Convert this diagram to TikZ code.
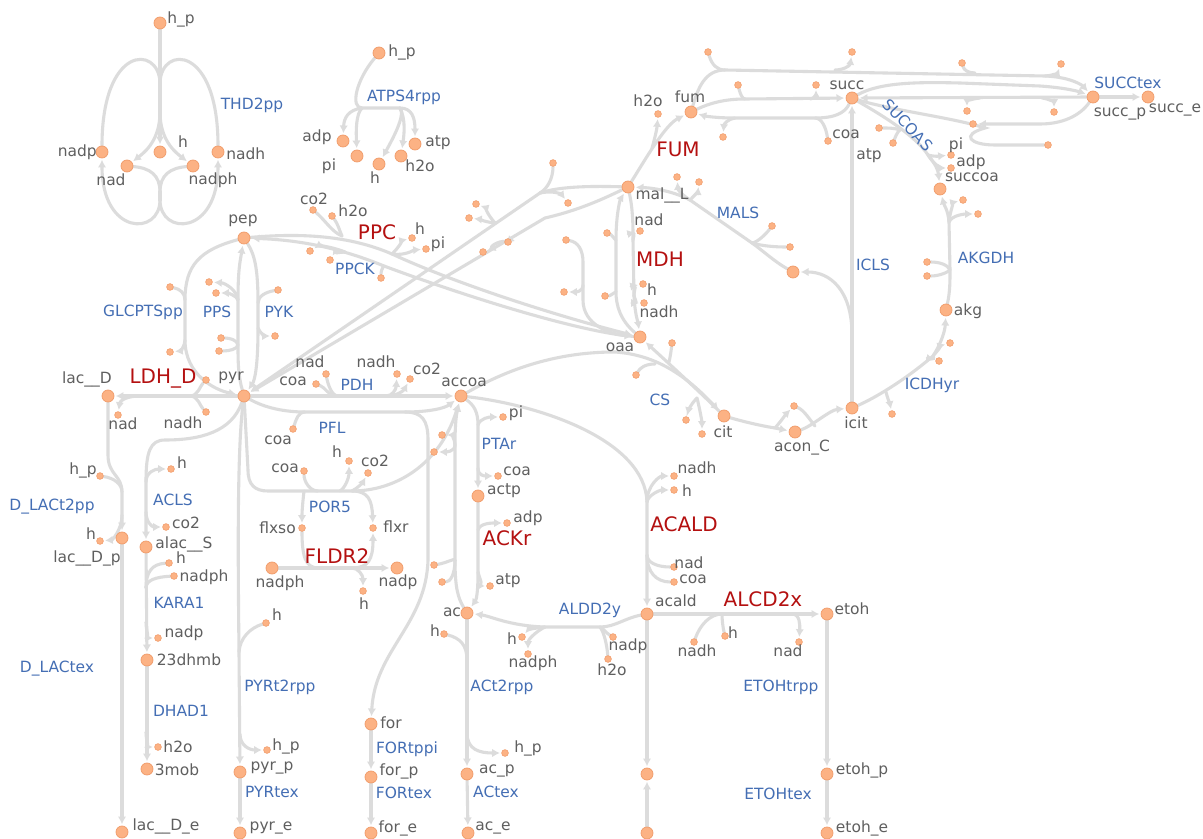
\documentclass[tikz,border=0pt]{standalone}
\usepackage{fontspec}
\setmainfont{DejaVu Sans}
\usetikzlibrary{arrows.meta}
\definecolor{lg}{RGB}{220,220,220}
\definecolor{mf}{RGB}{252,178,132}
\definecolor{ms}{RGB}{240,155,105}
\definecolor{mt}{RGB}{95,95,95}
\definecolor{rb}{RGB}{68,110,180}
\definecolor{rr}{RGB}{180,16,16}
\pgfdeclarelayer{bg}
\pgfsetlayers{bg,main}
\tikzset{
 rx/.style={draw=lg, line width=2.2pt, line cap=round},
 ar/.style={-{Latex[length=5.5pt,width=6pt]}, shorten >=1pt},
 mbig/.style={circle, fill=mf, draw=ms, line width=0.5pt, minimum size=0.3cm, inner sep=0pt},
 msml/.style={circle, fill=mf, draw=ms, line width=0.4pt, minimum size=0.17cm, inner sep=0pt},
 mlab/.style={text=mt, font=\fontsize{11}{13}\selectfont, inner sep=0pt},
 rlab/.style={text=rb, font=\fontsize{11}{13}\selectfont, inner sep=0pt},
 rred/.style={text=rr, font=\fontsize{14.2}{16}\selectfont, inner sep=0pt},
}
\newcommand\metbig[2]{\node[mbig] (#1) at (#2) {};}
\newcommand\metsml[2]{\node[msml] (#1) at (#2) {};}
\newcommand\labc[3]{\node[mlab] (#1) at (#2) {#3};}
\newcommand\labw[3]{\node[mlab,anchor=west] (#1) at (#2) {#3};}
\newcommand\labe[3]{\node[mlab,anchor=east] (#1) at (#2) {#3};}
\newcommand\rxnb[3]{\node[rlab] (#1) at (#2) {#3};}
\newcommand\rxnr[3]{\node[rred] (#1) at (#2) {#3};}
\begin{document}
\begin{tikzpicture}[x=0.025cm,y=-0.025cm]
\useasboundingbox (0,0) rectangle (1203,839);
% ================= THD2pp =================
\metbig{thdhp}{160,23}
\metbig{thdnadp}{102,152}
\metbig{thdnad}{127,166}
\metbig{thdh}{160,152}
\metbig{thdnadph}{193,166}
\metbig{thdnadh}{218,152}
\labw{l1}{167,19}{h\_p}
\labe{l2}{97,152}{nadp}
\labc{l3}{111,180}{nad}
\labc{l4}{183,142}{h}
\labc{l5}{213,180}{nadph}
\labw{l6}{226,154}{nadh}
\rxnb{r1}{252,105}{THD2pp}
\coordinate (thj1) at (160,82);
\coordinate (thj2) at (160,112);
\coordinate (thj3) at (160,192);
\coordinate (thj4) at (160,200);
% ================= ATPS4rpp =================
\metbig{athp}{379,53}
\metbig{aadp}{343,141}
\metbig{api}{357,156}
\metbig{ah}{379,164}
\metbig{ah2o}{401,156}
\metbig{aatp}{415,144}
\labw{l7}{388,52}{h\_p}
\labc{l8}{317,137}{adp}
\labc{l9}{329,166}{pi}
\labc{l10}{375,178}{h}
\labc{l11}{420,166}{h2o}
\labc{l12}{438,143}{atp}
\rxnb{r2}{404,97}{ATPS4rpp}
\coordinate (aj1) at (362,108);
\coordinate (aj2) at (400,108);
% ================= central metabolites =================
\metbig{pep}{244,238}
\metbig{pyr}{244,396}
\metbig{lacD}{108,396}
\metbig{accoa}{461,396}
\metbig{malL}{628,187}
\metbig{fum}{691,112}
\metbig{succ}{852,98}
\metbig{succp}{1093,97}
\metbig{succe}{1148,97}
\metbig{succoa}{940,189}
\metbig{akg}{946,310}
\metbig{icit}{852,408}
\metbig{aconC}{795,432}
\metbig{cit}{724,416}
\metbig{oaa}{640,337}
\metbig{glx}{793,272}
\metbig{actp}{478,496}
\metbig{ac}{467,613}
\metbig{acald}{647,614}
\metbig{etoh}{827,614}
\metbig{etohp}{827,774}
\metbig{etohe}{827,833}
\metbig{acp}{467,774}
\metbig{ace}{468,833}
\metbig{fr}{371,724}
\metbig{forp}{371,777}
\metbig{fore}{371,833}
\metbig{pyrp}{240,772}
\metbig{pyre}{240,833}
\metbig{lacDp}{122,538}
\metbig{lacDe}{122,832}
\metbig{alacS}{146,547}
\metbig{dhmb}{147,660}
\metbig{mob}{147,769}
\metbig{fnadph}{272,568}
\metbig{fnadp}{397,568}
\metbig{acaldp}{647,774}
\metbig{acalde}{647,833}
\labc{l13}{243,221}{pep}
\labc{l14}{231,378}{pyr}
\labc{l15}{87,379}{lac\_\_D}
\labc{l16}{464,382}{accoa}
\labc{l17}{662,195}{mal\_\_L}
\labc{l18}{690,97}{fum}
\labc{l19}{847,85}{succ}
\labc{l20}{1120,114}{succ\_p}
\labc{l21}{1175,110}{succ\_e}
\labc{l22}{972,177}{succoa}
\labc{l23}{968,311}{akg}
\labc{l24}{856,423}{icit}
\labc{l25}{802,448}{acon\_C}
\labc{l26}{723,432}{cit}
\labc{l27}{620,347}{oaa}
\labc{l28}{504,491}{actp}
\labc{l29}{452,612}{ac}
\labc{l30}{676,601}{acald}
\labc{l31}{852,609}{etoh}
\labc{l32}{862,770}{etoh\_p}
\labc{l33}{862,828}{etoh\_e}
\labc{l34}{497,771}{ac\_p}
\labc{l35}{493,828}{ac\_e}
\labc{l36}{391,723}{for}
\labc{l37}{399,771}{for\_p}
\labc{l38}{398,828}{for\_e}
\labc{l39}{272,768}{pyr\_p}
\labc{l40}{271,828}{pyr\_e}
\labc{l41}{87,558}{lac\_\_D\_p}
\labc{l42}{166,826}{lac\_\_D\_e}
\labc{l43}{184,544}{alac\_\_S}
\labc{l44}{189,660}{23dhmb}
\labc{l45}{177,770}{3mob}
\labc{l46}{280,583}{nadph}
\labc{l47}{398,582}{nadp}
% ================= small metabolites =================
\metsml{glc1}{170,287}
\metsml{glc2}{170,352}
\metsml{pps1}{209,282}
\metsml{pps2}{216,293}
\metsml{pps3}{221,338}
\metsml{pps4}{219,351}
\metsml{pyk1}{278,290}
\metsml{pyk2}{275,336}
\metsml{ldh1}{206,380}
\metsml{ldhnadh}{206,412}
\metsml{ldhnad}{118,415}
\labc{l48}{183,423}{nadh}
\labc{l49}{123,424}{nad}
\metsml{dlhp}{100,476}
\metsml{dlh}{100,541}
\labc{l50}{83,470}{h\_p}
\labc{l51}{91,534}{h}
\metsml{aclsh}{171,469}
\metsml{aclsco2}{166,527}
\labc{l52}{182,463}{h}
\labc{l53}{186,523}{co2}
\metsml{karh}{169,563}
\metsml{karnadph}{174,576}
\metsml{karnadp}{158,638}
\metsml{dhh2o}{158,747}
\labc{l54}{181,558}{h}
\labc{l55}{204,577}{nadph}
\labc{l56}{184,633}{nadp}
\labc{l57}{178,747}{h2o}
\metsml{pth}{266,623}
\metsml{pthp}{267,750}
\labc{l58}{277,615}{h}
\labc{l59}{286,746}{h\_p}
\metsml{pdhcoa}{316,384}
\metsml{pdhnad}{326,374}
\metsml{pdhnadh}{397,374}
\metsml{pdhco2}{410,379}
\labc{l60}{293,381}{coa}
\labc{l61}{310,362}{nad}
\labc{l62}{376,362}{nadh}
\labc{l63}{427,369}{co2}
\metsml{pflcoa}{293,429}
\labc{l64}{278,440}{coa}
\metsml{porcoa}{304,471}
\metsml{porh}{349,461}
\metsml{porco2}{368,473}
\metsml{flxso}{302,528}
\metsml{flxr}{373,528}
\metsml{fh}{363,591}
\labc{l65}{285,468}{coa}
\labc{l66}{337,452}{h}
\labc{l67}{375,461}{co2}
\labe{l68}{296,528}{flxso}
\labw{l69}{383,527}{flxr}
\labc{l70}{364,604}{h}
\metsml{ppcco2}{313,210}
\metsml{ppch2o}{332,216}
\metsml{ppch}{412,238}
\metsml{ppcpi}{426,249}
\metsml{ppk1}{310,251}
\metsml{ppk2}{330,260}
\metsml{ppk3}{381,278}
\labc{l71}{314,199}{co2}
\labc{l72}{353,211}{h2o}
\labc{l73}{420,229}{h}
\labc{l74}{438,244}{pi}
\metsml{me1}{476,204}
\metsml{me2}{469,218}
\metsml{me3}{553,163}
\metsml{me4}{568,203}
\metsml{me5}{508,242}
\metsml{me6}{483,252}
\metsml{mdnad}{640,231}
\metsml{mdh}{643,284}
\metsml{mdnadh}{644,303}
\metsml{md1}{607,233}
\metsml{md2}{605,296}
\metsml{mc1}{566,240}
\metsml{mc2}{564,292}
\labc{l75}{649,220}{nad}
\labc{l76}{652,290}{h}
\labc{l77}{659,312}{nadh}
\metsml{fumh2o}{658,114}
\labc{l78}{648,101}{h2o}
\metsml{sd1}{708,52}
\metsml{sd2}{852,52}
\metsml{sd3}{962,63}
\metsml{sd4}{1061,64}
\metsml{sd5}{738,85}
\metsml{sd6}{816,85}
\metsml{sd7}{723,137}
\metsml{sd8}{828,141}
\metsml{sd9}{879,128}
\metsml{sd10}{893,143}
\metsml{sd11}{967,111}
\metsml{sd12}{1054,112}
\metsml{sd13}{973,124}
\metsml{sd14}{1048,145}
\labc{l79}{846,134}{coa}
\labc{l80}{869,156}{atp}
\metsml{supi}{951,155}
\metsml{suadp}{951,168}
\labc{l81}{956,145}{pi}
\labc{l82}{971,162}{adp}
\metsml{ak1}{963,200}
\metsml{ak2}{978,214}
\metsml{ak3}{927,262}
\metsml{ak4}{927,276}
\metsml{ic1}{950,343}
\metsml{ic2}{939,361}
\metsml{ic3}{892,414}
\metsml{ma1}{677,177}
\metsml{ma2}{699,182}
\metsml{ma3}{772,226}
\metsml{ma4}{790,247}
\metsml{cs1}{636,375}
\metsml{cs2}{672,343}
\metsml{cs3}{686,420}
\metsml{cs4}{702,434}
\metsml{acoh2o}{794,406}
\metsml{ptapi}{503,417}
\metsml{ptacoa}{498,476}
\labc{l83}{516,413}{pi}
\labc{l84}{517,471}{coa}
\metsml{ackadp}{507,523}
\metsml{ackatp}{490,586}
\labc{l85}{528,518}{adp}
\labc{l86}{508,581}{atp}
\metsml{acs1}{442,435}
\metsml{acs2}{434,452}
\metsml{acs3}{434,565}
\metsml{acs4}{442,582}
\metsml{acth}{444,634}
\metsml{acthp}{505,753}
\labc{l87}{435,631}{h}
\labc{l88}{528,748}{h\_p}
\metsml{alh}{522,637}
\metsml{alnadph}{528,654}
\metsml{alnadp}{613,637}
\metsml{alh2o}{608,659}
\labc{l89}{512,639}{h}
\labc{l90}{533,663}{nadph}
\labc{l91}{628,646}{nadp}
\labc{l92}{612,670}{h2o}
\metsml{acanadh}{674,476}
\metsml{acah}{674,490}
\metsml{acanad}{674,567}
\metsml{acacoa}{674,582}
\labc{l93}{697,468}{nadh}
\labc{l94}{687,491}{h}
\labc{l95}{689,563}{nad}
\labc{l96}{693,579}{coa}
\metsml{alcnadh}{694,642}
\metsml{alch}{725,636}
\metsml{alcnad}{799,642}
\labc{l97}{697,651}{nadh}
\labc{l98}{733,633}{h}
\labc{l99}{788,651}{nad}
% ================= reaction labels =================
\rxnb{r3}{143,312}{GLCPTSpp}
\rxnb{r4}{217,312}{PPS}
\rxnb{r5}{279,312}{PYK}
\rxnr{r6}{163,379}{LDH\_D}
\rxnr{r7}{377,232}{PPC}
\rxnb{r8}{355,269}{PPCK}
\rxnb{r9}{357,385}{PDH}
\rxnb{r10}{332,428}{PFL}
\rxnb{r11}{330,507}{POR5}
\rxnr{r12}{337,556}{FLDR2}
\rxnb{r13}{173,500}{ACLS}
\rxnb{r14}{52,507}{D\_LACt2pp}
\rxnb{r15}{179,603}{KARA1}
\rxnb{r16}{181,711}{DHAD1}
\rxnb{r17}{57,669}{D\_LACtex}
\rxnb{r18}{280,687}{PYRt2rpp}
\rxnb{r19}{272,792}{PYRtex}
\rxnb{r20}{407,749}{FORtppi}
\rxnb{r21}{404,793}{FORtex}
\rxnb{r22}{499,444}{PTAr}
\rxnr{r23}{507,538}{ACKr}
\rxnb{r24}{502,687}{ACt2rpp}
\rxnb{r25}{496,792}{ACtex}
\rxnb{r26}{590,610}{ALDD2y}
\rxnr{r27}{684,524}{ACALD}
\rxnr{r28}{763,599}{ALCD2x}
\rxnb{r29}{781,687}{ETOHtrpp}
\rxnb{r30}{778,794}{ETOHtex}
\rxnb{r31}{660,400}{CS}
\rxnb{r32}{932,385}{ICDHyr}
\rxnb{r33}{986,258}{AKGDH}
\rxnb{r34}{873,265}{ICLS}
\rxnb{r35}{738,213}{MALS}
\rxnr{r36}{660,259}{MDH}
\rxnr{r37}{678,149}{FUM}
\node[rlab,rotate=-47] (r38) at (908,125) {SUCOAS};
\rxnb{r39}{1128,83}{SUCCtex}
% ================= joint coordinates =================
\coordinate (glcA) at (185,300);
\coordinate (glcB) at (185,340);
\coordinate (ppsA) at (238,300);
\coordinate (ppsB) at (238,345);
\coordinate (pykA) at (258,303);
\coordinate (pykB) at (258,328);
\coordinate (ldhA) at (190,396);
\coordinate (ldhB) at (140,396);
\coordinate (dl0) at (108,455);
\coordinate (dlA) at (122,492);
\coordinate (dlB) at (122,515);
\coordinate (acA) at (165,440);
\coordinate (acB) at (146,482);
\coordinate (acC) at (146,512);
\coordinate (kA) at (146,588);
\coordinate (kB) at (146,622);
\coordinate (dA) at (146,732);
\coordinate (ptA) at (239,652);
\coordinate (ptB) at (240,734);
\coordinate (pdA) at (338,396);
\coordinate (pdB) at (386,396);
\coordinate (pfA) at (305,412);
\coordinate (pfB) at (405,412);
\coordinate (pfC) at (428,440);
\coordinate (pfD) at (428,560);
\coordinate (poA) at (248,470);
\coordinate (poB) at (268,491);
\coordinate (poC) at (352,491);
\coordinate (poD) at (304,491);
\coordinate (poE) at (318,491);
\coordinate (poF) at (340,491);
\coordinate (flA) at (318,568);
\coordinate (flB) at (352,568);
\coordinate (ppcA) at (392,254);
\coordinate (ppcB) at (342,236);
\coordinate (ppkA) at (384,266);
\coordinate (ppkB) at (345,252);
\coordinate (meA) at (540,193);
\coordinate (meB) at (495,223);
\coordinate (meC) at (545,218);
\coordinate (meD) at (500,242);
\coordinate (mdA) at (633,240);
\coordinate (mdB) at (634,296);
\coordinate (mdC) at (616,240);
\coordinate (mdD) at (616,292);
\coordinate (mcA) at (583,262);
\coordinate (mcB) at (583,300);
\coordinate (mcC) at (583,285);
\coordinate (fuA) at (652,148);
\coordinate (tA) at (725,70);
\coordinate (tB) at (835,70);
\coordinate (tC) at (975,73);
\coordinate (tD) at (1045,76);
\coordinate (mA) at (745,99);
\coordinate (mB) at (810,99);
\coordinate (bA) at (815,118);
\coordinate (bB) at (735,118);
\coordinate (sA) at (980,98);
\coordinate (sB) at (1042,98);
\coordinate (s2A) at (960,83);
\coordinate (s2B) at (1040,86);
\coordinate (s3A) at (1040,124);
\coordinate (s4A) at (985,128);
\coordinate (s4B) at (995,145);
\coordinate (suA) at (928,155);
\coordinate (suB) at (900,130);
\coordinate (agA) at (949,222);
\coordinate (agB) at (950,270);
\coordinate (idA) at (933,356);
\coordinate (idB) at (886,392);
\coordinate (icA) at (852,335);
\coordinate (maA) at (690,200);
\coordinate (maB) at (752,243);
\coordinate (csA) at (615,352);
\coordinate (csB) at (655,364);
\coordinate (csC) at (697,398);
\coordinate (csD) at (669,362);
\coordinate (aoA) at (775,428);
\coordinate (aoB) at (815,426);
\coordinate (ptaA) at (478,425);
\coordinate (ptaB) at (478,468);
\coordinate (akA) at (478,530);
\coordinate (akB) at (478,572);
\coordinate (csxA) at (455,445);
\coordinate (csxB) at (455,560);
\coordinate (atA) at (467,660);
\coordinate (atB) at (467,733);
\coordinate (adA) at (600,627);
\coordinate (adB) at (545,627);
\coordinate (caA) at (647,502);
\coordinate (caB) at (647,555);
\coordinate (lcA) at (722,614);
\coordinate (lcB) at (792,614);
% ================= connectors =================
\begin{pgfonlayer}{bg}
\fill[white] (0,0) rectangle (1203,839);
% THD2pp
\draw[rx,ar] (thdhp) -- (thdh);
\draw[rx] (thj1) .. controls (158,45) and (102,45) .. (thdnadp);
\draw[rx] (thj1) .. controls (162,45) and (218,45) .. (thdnadh);
\draw[rx,ar] (thj2) .. controls (160,140) and (145,152) .. (thdnad);
\draw[rx,ar] (thj2) .. controls (160,140) and (175,152) .. (thdnadph);
\draw[rx] (thdnad) .. controls (150,168) and (160,175) .. (thj3);
\draw[rx] (thdnadph) .. controls (170,168) and (160,175) .. (thj3);
\draw[rx] (thj3) -- (thj4);
\draw[rx,ar] (thj4) .. controls (160,236) and (102,236) .. (thdnadp);
\draw[rx,ar] (thj4) .. controls (160,236) and (218,236) .. (thdnadh);
% ATPS4rpp
\draw[rx] (athp) .. controls (356,80) and (350,108) .. (aj1) -- (aj2);
\draw[rx,ar] (aj1) .. controls (348,110) and (344,118) .. (aadp);
\draw[rx,ar] (aj1) .. controls (356,114) and (356,130) .. (api);
\draw[rx,ar] (aj2) .. controls (406,115) and (392,140) .. (ah);
\draw[rx,ar] (aj2) .. controls (406,120) and (404,135) .. (ah2o);
\draw[rx,ar] (aj2) .. controls (412,108) and (415,118) .. (aatp);
% GLCPTSpp
\draw[rx,ar] (pep) .. controls (200,250) and (185,265) .. (glcA) -- (glcB) .. controls (185,375) and (215,390) .. (pyr);
\draw[rx] (glc1) .. controls (180,289) and (185,293) .. (glcA);
\draw[rx,ar] (glcB) .. controls (185,346) and (180,351) .. (glc2);
% PPS
\draw[rx,ar] (pyr) .. controls (238,375) and (238,360) .. (ppsB) -- (ppsA) .. controls (238,270) and (240,262) .. (pep);
\draw[rx,ar] (ppsA) .. controls (237,290) and (225,283) .. (pps1);
\draw[rx,ar] (ppsA) .. controls (237,296) and (228,293) .. (pps2);
\draw[rx] (pps3) .. controls (230,338) and (237,340) .. (ppsB);
\draw[rx] (pps4) .. controls (230,351) and (237,349) .. (ppsB);
% PYK
\draw[rx,ar] (pep) .. controls (255,255) and (258,270) .. (pykA) -- (pykB) .. controls (258,365) and (255,380) .. (pyr);
\draw[rx] (pyk1) .. controls (266,292) and (258,296) .. (pykA);
\draw[rx,ar] (pykB) .. controls (260,333) and (265,336) .. (pyk2);
% LDH_D
\draw[rx,ar] (pyr) -- (lacD);
\draw[rx] (ldh1) .. controls (200,386) and (198,396) .. (ldhA);
\draw[rx] (ldhnadh) .. controls (200,406) and (198,396) .. (ldhA);
\draw[rx,ar] (ldhB) .. controls (126,396) and (120,401) .. (ldhnad);
% D_LACt2pp, D_LACtex
\draw[rx,ar] (lacD) -- (dl0) .. controls (108,475) and (122,475) .. (dlA) -- (lacDp);
\draw[rx] (dlhp) .. controls (114,478) and (122,484) .. (dlA);
\draw[rx,ar] (dlB) .. controls (122,530) and (112,540) .. (dlh);
\draw[rx,ar] (lacDp) -- (lacDe);
% ACLS
\draw[rx,ar] (pyr) .. controls (232,432) and (200,440) .. (acA) .. controls (150,440) and (146,452) .. (acB) -- (alacS);
\draw[rx,ar] (acB) .. controls (146,472) and (155,469) .. (aclsh);
\draw[rx,ar] (acC) .. controls (146,522) and (152,527) .. (aclsco2);
% KARA1, DHAD1
\draw[rx,ar] (alacS) -- (dhmb);
\draw[rx] (karh) .. controls (152,564) and (146,572) .. (kA);
\draw[rx] (karnadph) .. controls (156,577) and (146,580) .. (kA);
\draw[rx,ar] (kB) .. controls (146,632) and (150,638) .. (karnadp);
\draw[rx,ar] (dhmb) -- (mob);
\draw[rx,ar] (dA) .. controls (146,742) and (150,747) .. (dhh2o);
% PYRt2rpp, PYRtex
\draw[rx,ar] (pyr) .. controls (237,450) and (238,560) .. (ptA) -- (pyrp);
\draw[rx] (pth) .. controls (250,628) and (240,638) .. (ptA);
\draw[rx,ar] (ptB) .. controls (240,746) and (250,750) .. (pthp);
\draw[rx,ar] (pyrp) -- (pyre);
% FORtppi, FORtex
\draw[rx,ar] (fr) -- (forp);
\draw[rx,ar] (forp) -- (fore);
% PDH
\draw[rx,ar] (pyr) -- (accoa);
\draw[rx] (pdhcoa) .. controls (325,387) and (328,396) .. (pdA);
\draw[rx] (pdhnad) .. controls (328,385) and (332,396) .. (pdA);
\draw[rx,ar] (pdB) .. controls (392,396) and (396,390) .. (pdhnadh);
\draw[rx,ar] (pdB) .. controls (398,396) and (404,390) .. (pdhco2);
% PFL
\draw[rx,ar] (pyr) .. controls (265,408) and (285,412) .. (pfA) -- (pfB) .. controls (430,412) and (445,408) .. (accoa);
\draw[rx,ar] (pfB) .. controls (422,412) and (428,420) .. (pfC) -- (pfD) .. controls (426,625) and (375,650) .. (fr);
\draw[rx] (pflcoa) .. controls (296,420) and (298,412) .. (pfA);
% POR5
\draw[rx,ar] (pyr) -- (poA) .. controls (248,485) and (255,491) .. (poB) -- (poC) .. controls (395,491) and (440,465) .. (accoa);
\draw[rx,ar] (poC) .. controls (368,491) and (372,500) .. (flxr);
\draw[rx,ar] (poD) .. controls (303,500) and (302,510) .. (flxso);
\draw[rx] (porcoa) .. controls (304,482) and (310,491) .. (poE);
\draw[rx,ar] (poF) .. controls (345,488) and (349,478) .. (porh);
\draw[rx,ar] (poC) .. controls (358,488) and (363,482) .. (porco2);
% FLDR2
\draw[rx,ar] (fnadph) -- (fnadp);
\draw[rx] (flxso) .. controls (302,555) and (305,568) .. (flA);
\draw[rx,ar] (flB) .. controls (368,568) and (373,560) .. (flxr);
\draw[rx,ar] (flB) .. controls (358,568) and (363,575) .. (fh);
% PPC, PPCK
\draw[rx,ar] (pep) .. controls (310,232) and (355,238) .. (ppcA) .. controls (470,290) and (580,322) .. (oaa);
\draw[rx] (ppcco2) .. controls (325,220) and (332,232) .. (ppcB);
\draw[rx] (ppch2o) .. controls (338,224) and (340,232) .. (ppcB);
\draw[rx,ar] (ppcA) .. controls (398,248) and (404,240) .. (ppch);
\draw[rx,ar] (ppcA) .. controls (405,256) and (414,250) .. (ppcpi);
\draw[rx,ar] (oaa) .. controls (580,332) and (470,298) .. (ppkA) .. controls (340,248) and (300,240) .. (pep);
\draw[rx,ar] (ppkB) .. controls (330,246) and (318,246) .. (ppk1);
\draw[rx,ar] (ppkB) .. controls (338,252) and (333,255) .. (ppk2);
\draw[rx] (ppk3) .. controls (381,272) and (382,268) .. (ppkA);
% ME
\draw[rx,ar] (malL) .. controls (595,186) and (560,186) .. (meA) -- (pyr);
\draw[rx] (me3) .. controls (553,178) and (548,188) .. (meA);
\draw[rx,ar] (meA) .. controls (555,190) and (562,195) .. (me4);
\draw[rx,ar] (meB) .. controls (488,215) and (484,207) .. (me1);
\draw[rx,ar] (meB) .. controls (485,222) and (478,219) .. (me2);
\draw[rx,ar] (malL) .. controls (605,198) and (580,210) .. (meC) -- (pyr);
\draw[rx,ar] (meD) .. controls (505,240) and (506,244) .. (me5);
\draw[rx,ar] (meD) .. controls (492,244) and (488,250) .. (me6);
% MDH
\draw[rx,ar] (malL) .. controls (633,210) and (633,225) .. (mdA) -- (mdB) .. controls (635,315) and (638,322) .. (oaa);
\draw[rx,ar] (mdA) .. controls (634,234) and (636,232) .. (mdnad);
\draw[rx,ar] (mdB) .. controls (634,288) and (638,285) .. (mdh);
\draw[rx,ar] (mdB) .. controls (636,302) and (638,303) .. (mdnadh);
\draw[rx,ar] (oaa) .. controls (620,320) and (616,305) .. (mdD) -- (mdC) .. controls (616,215) and (620,200) .. (malL);
\draw[rx] (md1) .. controls (612,235) and (615,240) .. (mdC);
\draw[rx] (md2) .. controls (610,296) and (615,292) .. (mdD);
\draw[rx,ar] (mc1) .. controls (578,242) and (583,250) .. (mcA) -- (mcB) .. controls (583,325) and (610,334) .. (oaa);
\draw[rx,ar] (mcC) .. controls (583,292) and (575,292) .. (mc2);
% FUM
\draw[rx,ar] (malL) .. controls (645,160) and (665,125) .. (fum);
\draw[rx,ar] (fuA) .. controls (655,138) and (657,128) .. (fumh2o);
% fum / succ
\draw[rx,ar] (fum) .. controls (698,88) and (705,70) .. (tA) -- (tD) .. controls (1070,77) and (1082,85) .. (succp);
\draw[rx] (sd1) .. controls (712,65) and (717,70) .. (tA);
\draw[rx,ar] (tB) .. controls (843,70) and (850,66) .. (sd2);
\draw[rx] (sd3) .. controls (964,70) and (968,73) .. (tC);
\draw[rx,ar] (tD) .. controls (1052,76) and (1058,72) .. (sd4);
\draw[rx,ar] (fum) .. controls (710,103) and (725,99) .. (mA) -- (succ);
\draw[rx] (sd5) .. controls (740,93) and (742,99) .. (mA);
\draw[rx,ar] (mB) .. controls (814,99) and (816,94) .. (sd6);
\draw[rx,ar] (succ) .. controls (845,113) and (835,118) .. (bA) -- (bB) .. controls (715,118) and (705,116) .. (fum);
\draw[rx,ar] (bB) .. controls (728,119) and (724,124) .. (sd7);
\draw[rx] (sd8) .. controls (826,128) and (822,118) .. (bA);
\draw[rx,ar] (succp) -- (succ);
\draw[rx,ar] (sA) .. controls (970,99) and (967,102) .. (sd11);
\draw[rx,ar] (sB) .. controls (1050,99) and (1054,103) .. (sd12);
\draw[rx,ar] (succ) .. controls (880,82) and (920,82) .. (s2A) -- (s2B) .. controls (1068,88) and (1080,92) .. (succp);
\draw[rx,ar] (succp) .. controls (1080,116) and (1062,124) .. (s3A) -- (sd13);
\draw[rx] (succ) .. controls (890,110) and (955,118) .. (s4A) .. controls (960,135) and (970,145) .. (s4B) -- (sd14);
\draw[rx,ar] (succp) -- (succe);
% SUCOAS
\draw[rx,ar] (succ) .. controls (880,114) and (915,135) .. (suA) .. controls (936,165) and (938,170) .. (succoa);
\draw[rx,ar] (suA) .. controls (935,157) and (940,156) .. (supi);
\draw[rx,ar] (suA) .. controls (934,165) and (942,168) .. (suadp);
\draw[rx] (sd9) .. controls (888,128) and (895,128) .. (suB);
\draw[rx] (sd10) .. controls (895,138) and (897,132) .. (suB);
% AKGDH
\draw[rx,ar] (akg) .. controls (950,292) and (950,282) .. (agB) -- (agA) .. controls (948,210) and (944,205) .. (succoa);
\draw[rx,ar] (agA) .. controls (950,210) and (955,202) .. (ak1);
\draw[rx,ar] (agA) .. controls (952,215) and (965,214) .. (ak2);
\draw[rx] (ak3) .. controls (940,262) and (948,265) .. (agB);
\draw[rx] (ak4) .. controls (940,276) and (948,272) .. (agB);
% ICDHyr
\draw[rx,ar] (icit) .. controls (875,398) and (905,380) .. (idA) .. controls (942,342) and (945,330) .. (akg);
\draw[rx,ar] (idA) .. controls (938,350) and (943,345) .. (ic1);
\draw[rx,ar] (idA) .. controls (934,358) and (935,360) .. (ic2);
\draw[rx,ar] (idB) .. controls (888,400) and (890,404) .. (ic3);
% ICLS
\draw[rx,ar] (icit) -- (icA) -- (succ);
\draw[rx,ar] (icA) .. controls (852,290) and (830,272) .. (glx);
% MALS
\draw[rx,ar] (glx) .. controls (775,262) and (762,250) .. (maB) -- (maA) .. controls (675,192) and (655,188) .. (malL);
\draw[rx,ar] (maA) .. controls (682,195) and (678,190) .. (ma1);
\draw[rx,ar] (maA) .. controls (694,196) and (698,191) .. (ma2);
\draw[rx] (ma3) .. controls (766,234) and (758,242) .. (maB);
\draw[rx] (ma4) .. controls (775,247) and (762,246) .. (maB);
% CS
\draw[rx,ar] (accoa) .. controls (520,362) and (570,352) .. (csA) .. controls (660,355) and (690,380) .. (cit);
\draw[rx,ar] (cit) .. controls (700,392) and (665,360) .. (oaa);
\draw[rx] (cs1) .. controls (640,368) and (645,364) .. (csB);
\draw[rx] (cs2) .. controls (671,352) and (670,358) .. (csD);
\draw[rx,ar] (csC) .. controls (690,405) and (688,412) .. (cs3);
\draw[rx,ar] (csC) .. controls (700,410) and (702,422) .. (cs4);
% ACONT
\draw[rx,ar] (cit) .. controls (745,422) and (762,426) .. (aoA) -- (aconC);
\draw[rx,ar] (aoA) .. controls (782,420) and (786,414) .. (acoh2o);
\draw[rx,ar] (aconC) .. controls (812,426) and (830,410) .. (icit);
\draw[rx] (acoh2o) .. controls (804,410) and (810,420) .. (aoB);
% PTAr
\draw[rx,ar] (accoa) .. controls (474,405) and (478,412) .. (ptaA) -- (actp);
\draw[rx,ar] (ptaA) .. controls (480,418) and (490,417) .. (ptapi);
\draw[rx,ar] (ptaB) .. controls (478,476) and (485,476) .. (ptacoa);
% ACKr
\draw[rx,ar] (actp) -- (akA) -- (akB) .. controls (478,595) and (476,600) .. (ac);
\draw[rx,ar] (akA) .. controls (480,523) and (492,523) .. (ackadp);
\draw[rx,ar] (akB) .. controls (480,580) and (484,586) .. (ackatp);
% ACS
\draw[rx,ar] (ac) .. controls (458,598) and (455,588) .. (csxB) -- (csxA) .. controls (455,420) and (457,412) .. (accoa);
\draw[rx,ar] (csxA) .. controls (455,438) and (450,435) .. (acs1);
\draw[rx,ar] (csxA) .. controls (455,452) and (445,452) .. (acs2);
\draw[rx] (acs3) .. controls (446,563) and (455,558) .. (csxB);
\draw[rx] (acs4) .. controls (450,582) and (455,575) .. (csxB);
% ACt2rpp, ACtex
\draw[rx,ar] (ac) -- (acp);
\draw[rx] (acth) .. controls (460,638) and (467,645) .. (atA);
\draw[rx,ar] (atB) .. controls (467,750) and (480,753) .. (acthp);
\draw[rx,ar] (acp) -- (ace);
% ALDD2y
\draw[rx,ar] (acald) .. controls (625,618) and (615,627) .. (adA) -- (adB) .. controls (510,626) and (490,616) .. (ac);
\draw[rx] (alnadp) .. controls (606,633) and (602,627) .. (adA);
\draw[rx] (alh2o) .. controls (607,645) and (604,632) .. (adA);
\draw[rx,ar] (adB) .. controls (535,628) and (528,630) .. (alh);
\draw[rx,ar] (adB) .. controls (535,632) and (528,640) .. (alnadph);
% ACALD
\draw[rx,ar] (accoa) .. controls (540,405) and (645,440) .. (caA) -- (acald);
\draw[rx,ar] (caA) .. controls (647,485) and (660,476) .. (acanadh);
\draw[rx,ar] (caA) .. controls (648,495) and (660,490) .. (acah);
\draw[rx] (acanad) .. controls (656,567) and (647,562) .. (caB);
\draw[rx] (acacoa) .. controls (656,582) and (647,572) .. (caB);
% ALCD2x
\draw[rx,ar] (acald) -- (etoh);
\draw[rx] (alcnadh) .. controls (700,625) and (710,614) .. (lcA);
\draw[rx] (alch) .. controls (723,628) and (722,620) .. (lcA);
\draw[rx,ar] (lcB) .. controls (800,614) and (800,625) .. (alcnad);
% ETOH transport, acald transport
\draw[rx,ar] (etoh) -- (etohp);
\draw[rx,ar] (etohp) -- (etohe);
\draw[rx,ar] (acald) -- (acaldp);
\draw[rx,ar] (acalde) -- (acaldp);
\end{pgfonlayer}
\end{tikzpicture}
\end{document}
